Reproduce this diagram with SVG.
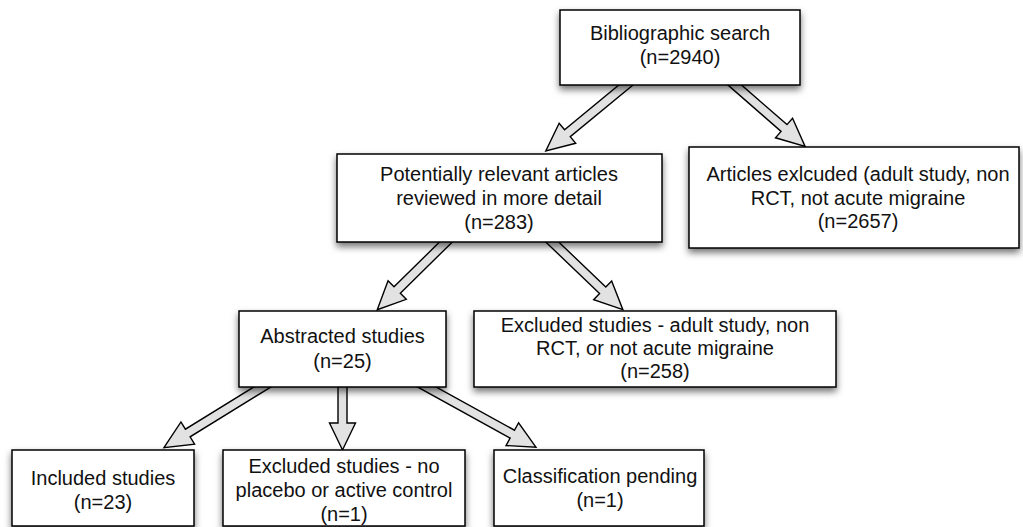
<svg xmlns="http://www.w3.org/2000/svg" width="1023" height="527" viewBox="0 0 1023 527">
<style>
.box{fill:#fff;stroke:#000;stroke-width:1.5;filter:url(#sh)}
.t{font-family:"Liberation Sans",Arial,Helvetica,sans-serif;font-size:20px;fill:#111;text-anchor:middle}
.arr{fill:#e2e2e2;stroke:#000;stroke-width:1.4;stroke-linejoin:miter}
</style>
<defs>
<filter id="sh" x="-10%" y="-20%" width="120%" height="150%">
<feDropShadow dx="0" dy="4" stdDeviation="3.5" flood-color="#000" flood-opacity="0.55"/>
</filter>
</defs>
<rect width="1023" height="527" fill="#fff"/>
<g id="connectors">
<g transform="translate(632,80) rotate(140.5)"><polygon class="arr" points="0,-4.5 83.7,-4.5 83.7,-13 111.7,0 83.7,13 83.7,4.5 0,4.5"/></g>
<g transform="translate(729,80) rotate(41.1)"><polygon class="arr" points="0,-4.5 73,-4.5 73,-13 101,0 73,13 73,4.5 0,4.5"/></g>
<g transform="translate(452,236) rotate(135.4)"><polygon class="arr" points="0,-4.5 77,-4.5 77,-13 105,0 77,13 77,4.5 0,4.5"/></g>
<g transform="translate(546,236) rotate(43.8)"><polygon class="arr" points="0,-4.5 78.5,-4.5 78.5,-13 106.5,0 78.5,13 78.5,4.5 0,4.5"/></g>
<g transform="translate(272,381) rotate(148.3)"><polygon class="arr" points="0,-4.5 99,-4.5 99,-13 127,0 99,13 99,4.5 0,4.5"/></g>
<g transform="translate(342.5,381) rotate(90)"><polygon class="arr" points="0,-4.5 42,-4.5 42,-13 69,0 42,13 42,4.5 0,4.5"/></g>
<g transform="translate(416,381) rotate(28.9)"><polygon class="arr" points="0,-4.5 110,-4.5 110,-13 137,0 110,13 110,4.5 0,4.5"/></g>
</g>
<g id="n1"><rect class="box" x="560" y="10" width="240" height="75"/>
<text class="t" x="680" y="40">Bibliographic search</text><text class="t" x="680" y="64">(n=2940)</text></g>
<g id="n2"><rect class="box" x="337" y="154" width="325" height="88"/>
<text class="t" x="499" y="181">Potentially relevant articles</text><text class="t" x="499" y="205">reviewed in more detail</text><text class="t" x="499" y="229">(n=283)</text></g>
<g id="n3"><rect class="box" x="689" y="147" width="330" height="101"/>
<text class="t" x="858" y="181">Articles exlcuded (adult study, non</text><text class="t" x="858" y="205">RCT, not acute migraine</text><text class="t" x="858" y="228">(n=2657)</text></g>
<g id="n4"><rect class="box" x="239" y="311" width="207" height="76"/>
<text class="t" x="342.5" y="343">Abstracted studies</text><text class="t" x="342.5" y="368">(n=25)</text></g>
<g id="n5"><rect class="box" x="474" y="311" width="362" height="76"/>
<text class="t" x="655" y="332">Excluded studies - adult study, non</text><text class="t" x="655" y="355">RCT, or not acute migraine</text><text class="t" x="655" y="378">(n=258)</text></g>
<g id="n6"><rect class="box" x="12" y="450" width="182" height="76"/>
<text class="t" x="103" y="485">Included studies</text><text class="t" x="103" y="509">(n=23)</text></g>
<g id="n7"><rect class="box" x="223" y="450" width="242" height="76"/>
<text class="t" x="344" y="473">Excluded studies - no</text><text class="t" x="344" y="497">placebo or active control</text><text class="t" x="344" y="521">(n=1)</text></g>
<g id="n8"><rect class="box" x="494" y="450" width="210" height="76"/>
<text class="t" x="600" y="483">Classification pending</text><text class="t" x="600" y="507">(n=1)</text></g>
</svg>
